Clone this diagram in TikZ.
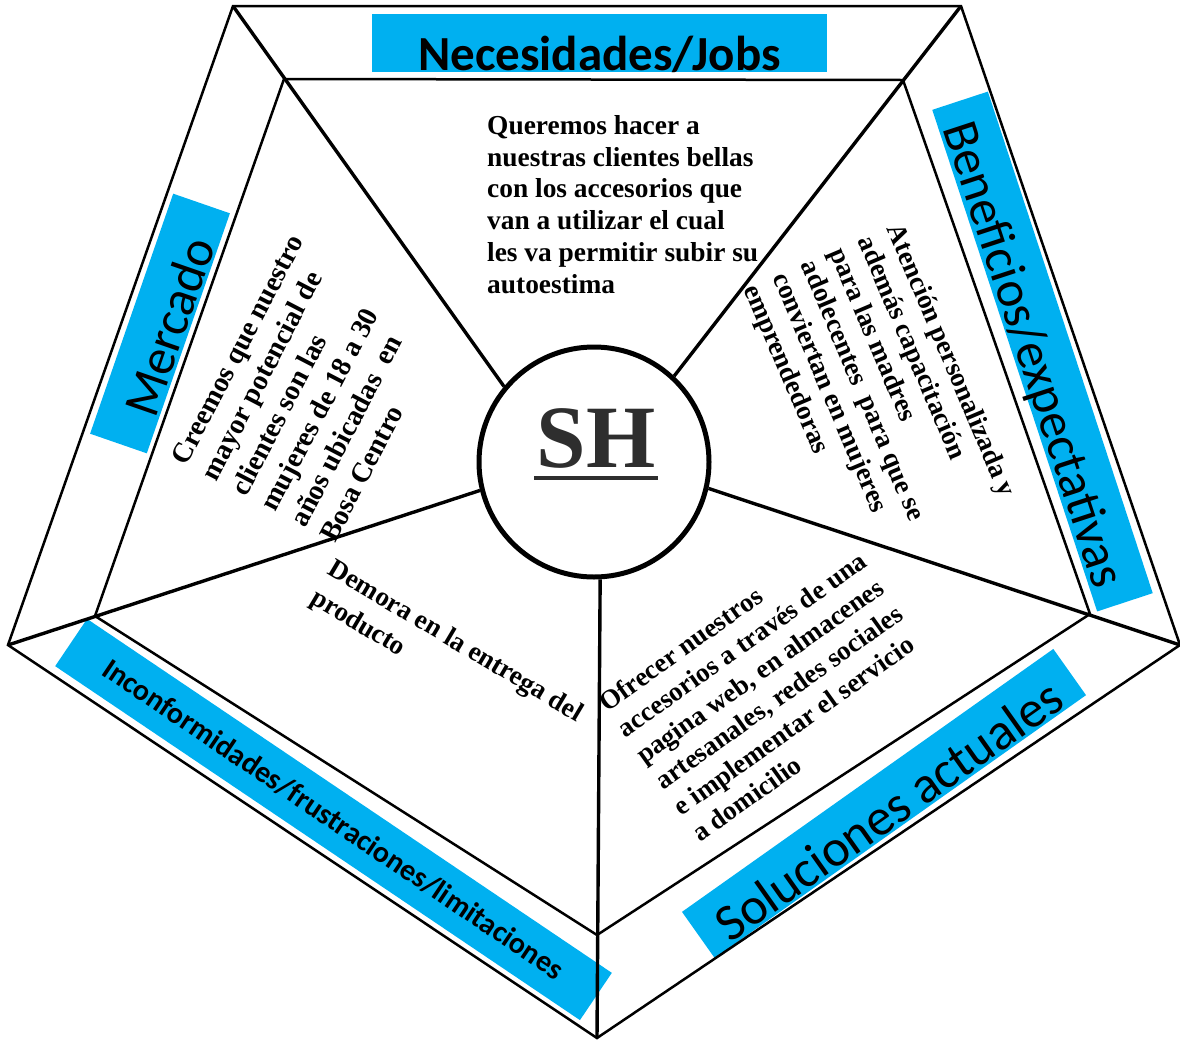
\documentclass[tikz,border=0pt]{standalone}
\usepackage{fontspec}
\setmainfont{Liberation Serif}
\newfontfamily\bandfont{Carlito}
\usetikzlibrary{calc}
\definecolor{BandBlue}{HTML}{00B0F0}
\definecolor{HubGray}{HTML}{2E2E2E}

\begin{document}
\begin{tikzpicture}[x=1pt,y=-1pt,
  rim/.style={line width=2.5pt,line join=miter},
  spoke/.style={line width=3.4pt},
  band/.style={fill=BandBlue,inner sep=0pt,text depth=0pt},
  note/.style={anchor=north west,align=left,inner sep=0pt}
]
\useasboundingbox (0,0) rectangle (1180,1042);

% blue title bands
\node[band,minimum width=455pt,minimum height=58pt,text height=55pt,
  font=\bandfont\bfseries\fontsize{49}{49}\selectfont] (needs) at (599.5,42.5) {Necesidades/Jobs};
\node[band,rotate=-71.8,minimum width=528pt,minimum height=58.5pt,text height=50pt,
  font=\bandfont\fontsize{51}{51}\selectfont] (benefits) at (1042.5,351.5) {Beneficios/expectativas};
\node[band,rotate=70.9,minimum width=254pt,minimum height=60pt,text height=54pt,
  font=\bandfont\fontsize{51}{51}\selectfont] (market) at (160,323.5) {Mercado};
\node[band,rotate=-34,minimum width=633pt,minimum height=57pt,text height=19.3pt,
  font=\bandfont\bfseries\fontsize{30}{30}\selectfont] (pains) at (333.5,819.5) {Inconformidades/frustraciones/limitaciones};
\node[band,rotate=35.3,minimum width=455pt,minimum height=56.6pt,text height=52pt,
  font=\bandfont\fontsize{52}{52}\selectfont] (solutions) at (884,803.5) {Soluciones actuales};

% outer and inner pentagons
\coordinate (A) at (233,6);
\coordinate (B) at (961,6);
\coordinate (C) at (1180,645);
\coordinate (D) at (597,1038);
\coordinate (E) at (8,645);
\coordinate (a) at (284,79);
\coordinate (b) at (903,80);
\coordinate (c) at (1090,614);
\coordinate (d) at (597,935);
\coordinate (e) at (95,616);
\draw[rim] (A) -- (B) -- (C) -- (D) -- (E) -- cycle;
\draw[rim] (a) -- (b) -- (c) -- (d) -- (e) -- cycle;

% hub and spokes
\node[draw,circle,line width=5pt,minimum size=230pt,inner sep=0pt,fill=white] (hub) at (594,462) {};
\draw[spoke] (A) -- (hub.140.3);
\draw[spoke] (B) -- (hub.47.7);
\draw[spoke] (C) -- (hub.-13);
\draw[spoke] (D) -- (hub.-87);
\draw[spoke] (E) -- (hub.194.9);

\node[anchor=base,inner sep=0pt,text=HubGray,font=\bfseries\fontsize{89}{89}\selectfont] (logo) at (596,467) {SH};
\draw[line width=4.5pt,HubGray] ([shift={(-2pt,-11pt)}]logo.base west) -- ([shift={(2pt,-11pt)}]logo.base east);

% texts in the five sectors
\node[note,font=\bfseries\fontsize{27.4}{31.8}\selectfont] (needtxt) at (487,115)
  {Queremos hacer a\\nuestras clientes bellas\\con los accesorios que\\van a utilizar el cual\\les va permitir subir su\\autoestima};
\node[note,rotate=62.5,font=\bfseries\fontsize{28.2}{33.5}\selectfont] (markettxt) at (170,458)
  {Creemos que nuestro\\mayor potencial de\\clientes son las\\mujeres de 18 a 30\\años ubicadas\ \ en\\Bosa Centro};
\node[note,rotate=-67,font=\bfseries\fontsize{27.2}{31}\selectfont] (benefitstxt) at (904,221)
  {Atención personalizada y\\además capacitación\\para las madres\\adolecentes\ \ para que se\\conviertan en mujeres\\emprendedoras};
\node[note,rotate=-30.7,font=\bfseries\fontsize{27.2}{34}\selectfont] (painstxt) at (336,557)
  {Demora en la entrega del\\producto};
\node[note,rotate=35.5,font=\bfseries\fontsize{27}{32}\selectfont] (solutionstxt) at (596,697)
  {Ofrecer nuestros\\accesorios a través de una\\pagina web, en almacenes\\artesanales, redes sociales\\e implementar el servicio\\a domicilio};
\end{tikzpicture}
\end{document}
